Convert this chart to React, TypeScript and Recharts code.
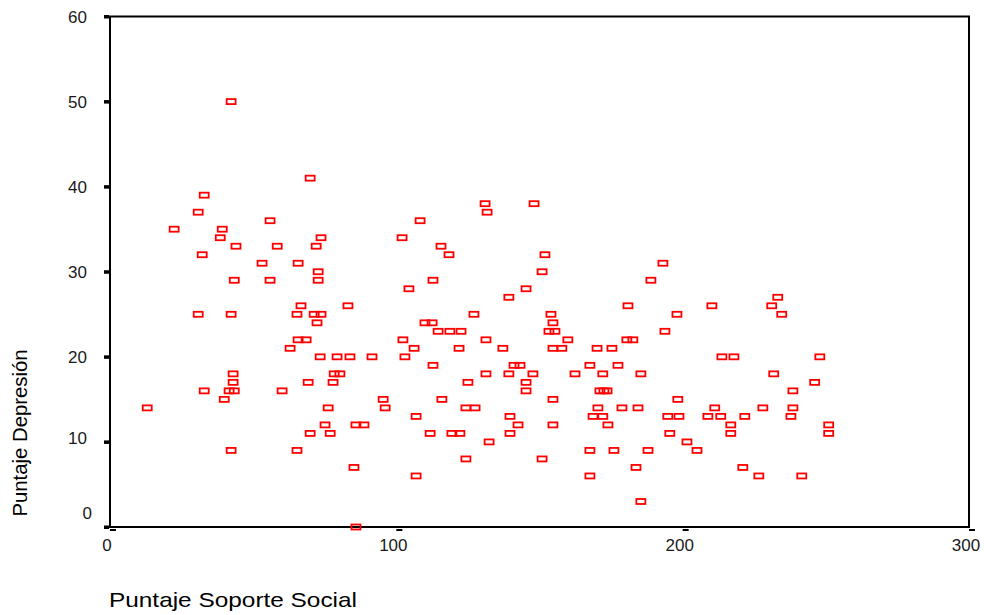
import React from 'react';
import { ScatterChart, Scatter, XAxis, YAxis, ReferenceArea, Label } from 'recharts';

const soporte = [
  13.0, 22.4, 30.8, 30.8, 32.9, 32.2, 32.9, 38.5, 39.2, 39.9,
  42.3, 44.0, 43.4, 42.3, 43.0, 43.0, 41.6, 43.4, 42.3, 53.1,
  55.9, 58.4, 55.9, 60.1, 62.9, 65.3, 65.7, 66.7, 65.7, 65.3,
  68.5, 69.2, 69.9, 69.9, 71.3, 72.0, 72.3, 72.7, 72.7, 73.7,
  73.7, 73.4, 75.1, 76.2, 76.9, 78.3, 77.9, 79.3, 80.3, 83.1,
  83.8, 85.2, 85.9, 85.9, 88.7, 91.5, 95.4, 96.1, 102.3, 102.0,
  103.0, 104.4, 106.2, 106.9, 106.9, 108.3, 110.0, 112.5, 111.8, 112.8,
  112.8, 114.6, 115.6, 115.9, 118.4, 118.7, 119.4, 121.9, 122.6, 122.2,
  124.3, 125.0, 124.3, 127.1, 127.5, 131.0, 131.7, 131.3, 131.3, 132.4,
  137.2, 139.3, 139.3, 139.7, 139.7, 141.1, 143.2, 142.5, 145.3, 145.3,
  145.3, 148.1, 147.7, 150.9, 150.9, 151.9, 153.3, 154.0, 154.7, 155.4,
  154.7, 154.7, 154.7, 157.8, 159.9, 162.4, 167.6, 167.6, 167.6, 168.7,
  170.1, 170.4, 171.1, 172.5, 173.6, 172.1, 172.1, 173.9, 175.3, 176.0,
  177.4, 178.8, 180.9, 180.5, 182.6, 183.7, 184.4, 185.4, 185.4, 187.9,
  188.9, 193.1, 193.8, 194.8, 195.5, 198.0, 198.3, 198.7, 201.5, 205.0,
  208.8, 210.2, 211.2, 213.3, 213.7, 216.8, 216.8, 217.9, 221.0, 221.7,
  226.6, 228.0, 231.1, 231.8, 233.2, 234.6, 237.8, 238.5, 238.5, 241.6,
  246.1, 247.9, 251.0, 251.0,
];

const depresion = [
  14, 35, 37, 25, 39, 32, 16, 34, 35, 15,
  50, 33, 29, 25, 18, 17, 16, 16, 9, 31,
  36, 33, 29, 16, 21, 25, 31, 26, 22, 9,
  22, 17, 41, 11, 25, 33, 24, 30, 29, 34,
  25, 20, 12, 14, 11, 18, 17, 20, 18, 26,
  20, 7, 12, 0, 12, 20, 15, 14, 22, 34,
  20, 28, 21, 6, 13, 36, 24, 24, 11, 29,
  19, 23, 33, 15, 32, 23, 11, 21, 23, 11,
  8, 17, 14, 25, 14, 38, 37, 22, 18, 10,
  21, 27, 18, 13, 11, 19, 19, 12, 28, 17,
  16, 38, 18, 30, 8, 32, 23, 25, 24, 23,
  21, 15, 12, 21, 22, 18, 19, 9, 6, 13,
  21, 14, 16, 16, 16, 18, 13, 12, 21, 9,
  19, 14, 26, 22, 22, 7, 14, 18, 3, 9,
  29, 31, 23, 13, 11, 25, 15, 13, 10, 9,
  13, 26, 14, 13, 20, 12, 11, 20, 7, 13,
  6, 14, 26, 18, 27, 25, 13, 16, 14, 6,
  17, 20, 12, 11,
];

const xTicks = [0, 100, 200, 300];
const yTicks = [0, 10, 20, 30, 40, 50, 60];
const xTitle = 'Puntaje Soporte Social';
const yTitle = 'Puntaje Depresión';

const data = soporte.map((x, i) => ({ x, y: depresion[i] }));

const FONT = 'Liberation Sans, Arial, sans-serif';

const XTick = (props: any) => {
  const { x, y, payload } = props;
  return (
    <g>
      <rect x={x} y={y + 2} width={6} height={2} fill="#000" />
      <text x={x - 3} y={y + 24} textAnchor="middle" fontSize={17} fill="#1a1a1a" fontFamily={FONT}>
        {payload.value}
      </text>
    </g>
  );
};

const YTick = (props: any) => {
  const { x, y, payload } = props;
  const v = payload.value;
  const dx = v === 0 ? 5 : 0;
  const dy = v === 0 ? -14 : v === 10 ? -4 : 0;
  return (
    <g>
      <rect x={x - 6} y={y - 1.5} width={5} height={3.5} fill="#000" />
      <text x={x - 23 + dx} y={y + 6 + dy} textAnchor="end" fontSize={17} fill="#1a1a1a" fontFamily={FONT}>
        {v}
      </text>
    </g>
  );
};

const XTitle = (props: any) => {
  const vb = props.viewBox || { x: 110, y: 527 };
  return (
    <text x={vb.x - 1} y={vb.y + 80} fontSize={21} fill="#000" fontFamily={FONT} textLength={248} lengthAdjust="spacingAndGlyphs">
      {xTitle}
    </text>
  );
};

const YTitle = (props: any) => {
  const vb = props.viewBox || { x: 50, y: 16.5 };
  const cx = vb.x - 23;
  const cy = vb.y + 416.5;
  return (
    <text x={cx} y={cy} transform={`rotate(-90 ${cx} ${cy})`} textAnchor="middle" fontSize={21} fill="#000" fontFamily={FONT} textLength={167} lengthAdjust="spacingAndGlyphs">
      {yTitle}
    </text>
  );
};

const Marker = (props: any) => {
  const { cx, cy } = props;
  if (cx == null || cy == null) return null;
  return <rect x={cx - 4.5} y={cy - 2.5} width={9} height={5} fill="none" stroke="#ff0000" strokeWidth={1.8} />;
};

export default function App() {
  return (
    <div style={{ position: 'absolute', left: 0, top: 0, width: 984, height: 615, background: '#fff' }}>
      <ScatterChart width={984} height={615} margin={{ top: 16.5, right: 15, bottom: 58, left: 50 }}>
        <XAxis
          type="number"
          dataKey="x"
          domain={[0, 300]}
          ticks={xTicks}
          axisLine={false}
          tickLine={false}
          tickSize={0}
          tickMargin={0}
          height={30}
          tick={XTick}
          interval={0}
        >
          <Label content={XTitle} />
        </XAxis>
        <YAxis
          type="number"
          dataKey="y"
          domain={[0, 60]}
          ticks={yTicks}
          axisLine={false}
          tickLine={false}
          tickSize={0}
          tickMargin={0}
          width={60}
          tick={YTick}
          interval={0}
        >
          <Label content={YTitle} />
        </YAxis>
        <ReferenceArea x1={0} x2={300} y1={0} y2={60} fill="none" fillOpacity={0} stroke="#000" strokeWidth={2} strokeOpacity={1} ifOverflow="visible" />
        <Scatter data={data} shape={Marker} isAnimationActive={false} />
      </ScatterChart>
    </div>
  );
}
